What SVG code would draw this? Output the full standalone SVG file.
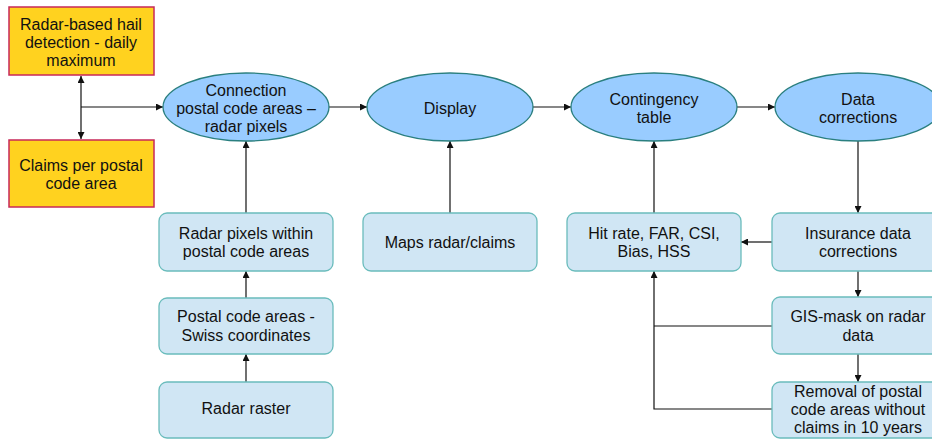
<svg xmlns="http://www.w3.org/2000/svg" width="932" height="440" viewBox="0 0 932 440">
  <defs>
    <style>
      text { font-family: "Liberation Sans", Arial, sans-serif; font-size: 16px; fill: #111; text-anchor: middle; }
      .src { fill: #FFD21F; stroke: #C8285A; stroke-width: 1.5; }
      .step { fill: #99CCFF; stroke: #2A7F7F; stroke-width: 1.3; }
      .box { fill: #D0E6F4; stroke: #6ABCBC; stroke-width: 1.3; }
      .edge { fill: none; stroke: #111; stroke-width: 1.2; }
    </style>
    <marker id="arr" viewBox="0 0 10 10" refX="10" refY="5" markerWidth="9" markerHeight="7" markerUnits="userSpaceOnUse" orient="auto-start-reverse">
      <path d="M0,0 L10,5 L0,10 z" fill="#111"/>
    </marker>
  </defs>

  <rect width="932" height="440" fill="#fff"/>

  <!-- connectors -->
  <g id="connectors">
    <line class="edge" x1="81" y1="76" x2="81" y2="139" marker-start="url(#arr)" marker-end="url(#arr)"/>
    <line class="edge" x1="81" y1="107" x2="163" y2="107" marker-end="url(#arr)"/>
    <line class="edge" x1="329" y1="107" x2="367" y2="107" marker-end="url(#arr)"/>
    <line class="edge" x1="533" y1="107" x2="571" y2="107" marker-end="url(#arr)"/>
    <line class="edge" x1="737" y1="107" x2="775" y2="107" marker-end="url(#arr)"/>
    <line class="edge" x1="858" y1="141" x2="858" y2="213" marker-end="url(#arr)"/>
    <line class="edge" x1="246" y1="213" x2="246" y2="141" marker-end="url(#arr)"/>
    <line class="edge" x1="450" y1="213" x2="450" y2="141" marker-end="url(#arr)"/>
    <line class="edge" x1="654" y1="213" x2="654" y2="141" marker-end="url(#arr)"/>
    <line class="edge" x1="246" y1="298" x2="246" y2="271" marker-end="url(#arr)"/>
    <line class="edge" x1="246" y1="382" x2="246" y2="354" marker-end="url(#arr)"/>
    <line class="edge" x1="772" y1="242" x2="741" y2="242" marker-end="url(#arr)"/>
    <line class="edge" x1="858" y1="271" x2="858" y2="297" marker-end="url(#arr)"/>
    <line class="edge" x1="858" y1="354" x2="858" y2="382" marker-end="url(#arr)"/>
    <polyline class="edge" points="772,409 654,409 654,271" marker-end="url(#arr)"/>
    <line class="edge" x1="772" y1="326" x2="654" y2="326"/>
  </g>

  <!-- input data -->
  <g id="radar-hail">
    <rect class="src" x="9" y="7" width="145" height="68"/>
    <text x="81" y="29.5">Radar-based hail</text>
    <text x="81" y="47.5">detection - daily</text>
    <text x="81" y="65.5">maximum</text>
  </g>
  <g id="claims">
    <rect class="src" x="9" y="140" width="145" height="67"/>
    <text x="81" y="171">Claims per postal</text>
    <text x="81" y="189">code area</text>
  </g>

  <!-- main processing chain -->
  <g id="connection">
    <ellipse class="step" cx="246" cy="107" rx="83" ry="34"/>
    <text x="246" y="96">Connection</text>
    <text x="246" y="114">postal code areas –</text>
    <text x="246" y="132">radar pixels</text>
  </g>
  <g id="display">
    <ellipse class="step" cx="450" cy="107" rx="83" ry="34"/>
    <text x="450" y="114">Display</text>
  </g>
  <g id="contingency">
    <ellipse class="step" cx="654" cy="107" rx="83" ry="34"/>
    <text x="654" y="105">Contingency</text>
    <text x="654" y="123">table</text>
  </g>
  <g id="data-corrections">
    <ellipse class="step" cx="858" cy="107" rx="83" ry="34"/>
    <text x="858" y="105">Data</text>
    <text x="858" y="123">corrections</text>
  </g>

  <!-- supporting steps -->
  <g id="radar-pixels">
    <rect class="box" x="159" y="213" width="174" height="58" rx="8"/>
    <text x="246" y="239">Radar pixels within</text>
    <text x="246" y="257">postal code areas</text>
  </g>
  <g id="postal-areas">
    <rect class="box" x="159" y="298" width="174" height="56" rx="8"/>
    <text x="246" y="322">Postal code areas -</text>
    <text x="246" y="341">Swiss coordinates</text>
  </g>
  <g id="radar-raster">
    <rect class="box" x="159" y="382" width="174" height="56" rx="8"/>
    <text x="246" y="414">Radar raster</text>
  </g>
  <g id="maps">
    <rect class="box" x="363" y="213" width="174" height="58" rx="8"/>
    <text x="450" y="248">Maps radar/claims</text>
  </g>
  <g id="scores">
    <rect class="box" x="567" y="213" width="174" height="58" rx="8"/>
    <text x="654" y="239">Hit rate, FAR, CSI,</text>
    <text x="654" y="257">Bias, HSS</text>
  </g>
  <g id="insurance">
    <rect class="box" x="772" y="213" width="174" height="58" rx="8"/>
    <text x="858" y="239">Insurance data</text>
    <text x="858" y="257">corrections</text>
  </g>
  <g id="gis-mask">
    <rect class="box" x="772" y="297" width="174" height="57" rx="8"/>
    <text x="858" y="322">GIS-mask on radar</text>
    <text x="858" y="341">data</text>
  </g>
  <g id="removal">
    <rect class="box" x="772" y="382" width="174" height="56" rx="8"/>
    <text x="858" y="397">Removal of postal</text>
    <text x="858" y="415">code areas without</text>
    <text x="858" y="433">claims in 10 years</text>
  </g>
</svg>
